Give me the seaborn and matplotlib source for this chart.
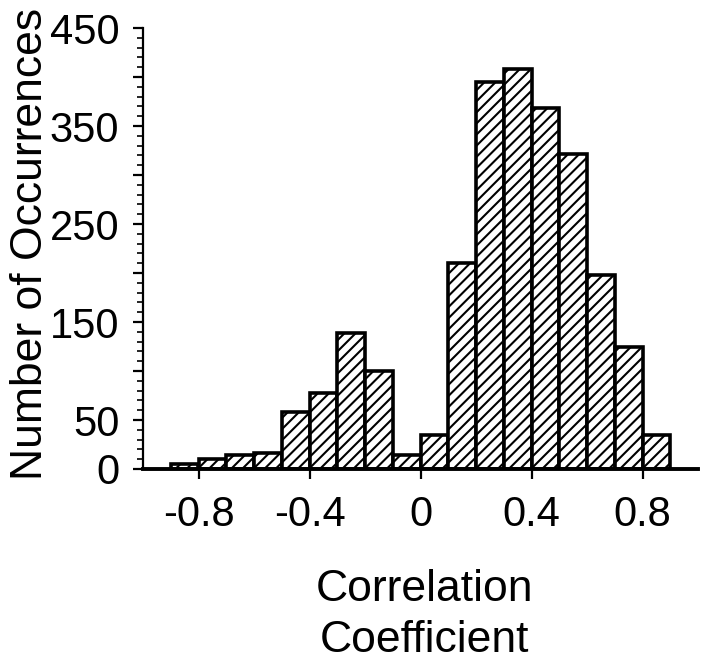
import numpy as np
import pandas as pd
import matplotlib
matplotlib.use("Agg")
import matplotlib.pyplot as plt
from matplotlib.ticker import FixedLocator, MultipleLocator
import seaborn as sns

# histogram: bins of width 0.1 from -0.9 to 0.9
bin_edges = [-0.9, -0.8, -0.7, -0.6, -0.5, -0.4, -0.3, -0.2, -0.1, 0.0,
             0.1, 0.2, 0.3, 0.4, 0.5, 0.6, 0.7, 0.8, 0.9]
counts = [5, 10, 14, 16, 58, 78, 139, 100, 14, 35,
          210, 395, 408, 368, 321, 198, 124, 35]

x_ticks = [-0.8, -0.4, 0.0, 0.4, 0.8]
x_tick_labels = ["-0.8", "-0.4", "0", "0.4", "0.8"]
y_ticks = [0, 50, 100, 150, 200, 250, 300, 350, 400, 450]
y_tick_labels = ["0", "50", "", "150", "", "250", "", "350", "", "450"]

sns.set_style("ticks")
plt.rcParams["font.family"] = ["Liberation Sans", "DejaVu Sans"]
plt.rcParams["text.color"] = "black"
plt.rcParams["axes.labelcolor"] = "black"
plt.rcParams["xtick.color"] = "black"
plt.rcParams["ytick.color"] = "black"
plt.rcParams["hatch.linewidth"] = 1.5
plt.rcParams["hatch.color"] = "black"

edges = np.array(bin_edges)
df = pd.DataFrame({"r": (edges[:-1] + edges[1:]) / 2, "n": counts})

fig = plt.figure(figsize=(7.02, 6.61), dpi=100)
ax = fig.add_axes([143 / 702, 1 - 469 / 661, 555 / 702, 441 / 661])

sns.histplot(data=df, x="r", weights="n", bins=list(bin_edges), ax=ax,
             color="white", edgecolor="black", linewidth=2.6,
             hatch="///", alpha=1, element="bars")

ax.set_xlim(-1.0, 1.0)
ax.set_ylim(0, 450)
sns.despine(ax=ax)
ax.spines["left"].set_linewidth(1.6)
ax.spines["left"].set_color("black")
ax.spines["bottom"].set_linewidth(2.8)
ax.spines["bottom"].set_color("black")

ax.xaxis.set_major_locator(FixedLocator(x_ticks))
ax.set_xticklabels(x_tick_labels)
ax.yaxis.set_major_locator(FixedLocator(y_ticks))
ax.set_yticklabels(y_tick_labels)
ax.yaxis.set_minor_locator(MultipleLocator(10))

ax.tick_params(axis="both", which="major", labelsize=30, width=1.6,
               length=7, colors="black")
ax.tick_params(axis="x", pad=12)
ax.tick_params(axis="y", pad=10)
ax.tick_params(axis="y", which="minor", width=1.2, length=4)

# baseline of the last line ("Coefficient") sits just above the bottom edge
ax.set_xlabel("Correlation\nCoefficient", fontsize=32, linespacing=1.3,
              va="baseline")
ax.xaxis.set_label_coords(0.508, -0.415)
ax.set_ylabel("Number of Occurrences", fontsize=32)
ax.yaxis.set_label_coords(-0.165, 0.511)

fig.savefig("out.png", dpi=100)
